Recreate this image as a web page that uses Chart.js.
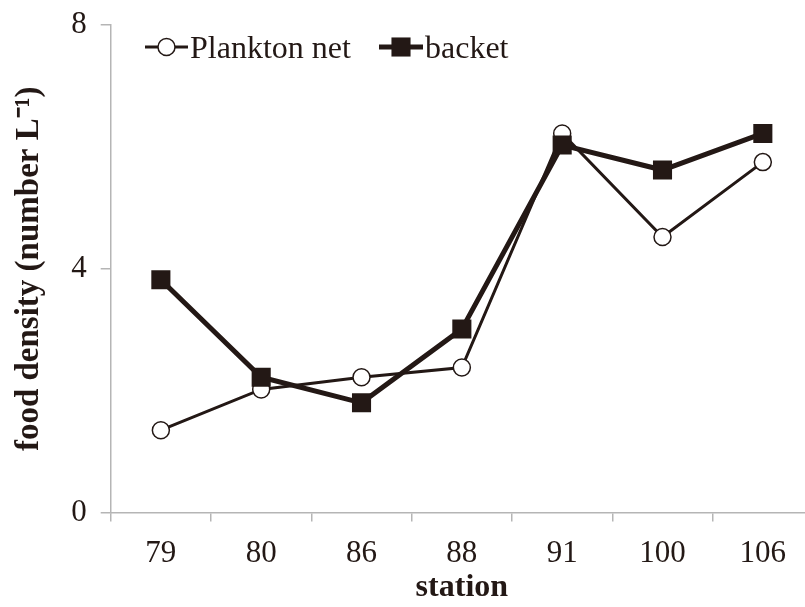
<!DOCTYPE html>
<html>
<head>
<meta charset="utf-8">
<script src="https://cdn.jsdelivr.net/npm/chart.js@4.4.1/dist/chart.umd.min.js"></script>
<style>
  html, body { margin: 0; padding: 0; background: #ffffff; overflow: hidden; }
  #wrap { width: 813px; height: 607px; }
</style>
</head>
<body>
<div id="wrap"><canvas id="c" width="813" height="607"></canvas></div>
<script>
// Stations sampled along the transect
const stations = ['79', '80', '86', '88', '91', '100', '106'];
// Food density (number per litre) for each sampling method
const planktonNet = [1.35, 2.02, 2.22, 2.38, 6.22, 4.52, 5.75];
const backet = [3.82, 2.22, 1.80, 3.01, 6.03, 5.62, 6.22];
// Value axis ticks
const yTicks = [0, 4, 8];

const INK = '#231815';
const AXIS = '#b5b5b5';
const SERIF = 'Liberation Serif';

// Legend with a short line segment through each marker, drawn on the canvas
const lineLegend = {
  id: 'lineLegend',
  afterDraw(chart) {
    const ctx = chart.ctx;
    const items = [
      { ds: chart.data.datasets[1], x0: 145, x1: 188, y: 47 },
      { ds: chart.data.datasets[0], x0: 379, x1: 423, y: 47 }
    ];
    ctx.save();
    items.forEach(it => {
      const ds = it.ds;
      const cx = (it.x0 + it.x1) / 2;
      ctx.strokeStyle = ds.borderColor;
      ctx.lineWidth = ds.borderWidth;
      ctx.beginPath();
      ctx.moveTo(it.x0, it.y);
      ctx.lineTo(it.x1, it.y);
      ctx.stroke();
      ctx.fillStyle = ds.pointBackgroundColor;
      ctx.strokeStyle = ds.pointBorderColor;
      ctx.lineWidth = ds.pointBorderWidth;
      ctx.beginPath();
      if (ds.pointStyle === 'circle') {
        ctx.arc(cx, it.y, ds.pointRadius, 0, Math.PI * 2);
        ctx.fill();
        ctx.stroke();
      } else {
        const s = ds.pointRadius * Math.SQRT1_2;
        ctx.rect(cx - s, it.y - s, 2 * s, 2 * s);
        ctx.fill();
      }
      ctx.fillStyle = INK;
      ctx.font = "32px '" + SERIF + "'";
      ctx.textBaseline = 'alphabetic';
      ctx.textAlign = 'left';
      ctx.fillText(ds.label, it.x1 + 2, it.y + 11);
    });
    ctx.restore();
  }
};

new Chart(document.getElementById('c'), {
  type: 'line',
  data: {
    labels: stations,
    datasets: [
      {
        label: 'backet',
        data: backet,
        borderColor: INK,
        borderWidth: 5,
        pointStyle: 'rect',
        pointRadius: 13.5,
        pointHoverRadius: 13.5,
        pointBackgroundColor: INK,
        pointBorderColor: INK,
        pointBorderWidth: 0,
        tension: 0,
        order: 0
      },
      {
        label: 'Plankton net',
        data: planktonNet,
        borderColor: INK,
        borderWidth: 3,
        pointStyle: 'circle',
        pointRadius: 8.5,
        pointHoverRadius: 8.5,
        pointBackgroundColor: '#ffffff',
        pointBorderColor: INK,
        pointBorderWidth: 1.5,
        tension: 0,
        order: 1
      }
    ]
  },
  options: {
    responsive: false,
    animation: false,
    events: [],
    layout: { autoPadding: false, padding: { top: 25, right: 0, left: 10, bottom: 0 } },
    plugins: {
      legend: { display: false },
      tooltip: { enabled: false }
    },
    scales: {
      x: {
        type: 'category',
        offset: true,
        grid: {
          display: true,
          offset: true,
          drawOnChartArea: false,
          tickLength: 9,
          tickColor: AXIS,
          lineWidth: 1.5
        },
        border: { display: true, color: AXIS, width: 1.5 },
        ticks: {
          color: INK,
          font: { family: SERIF, size: 31 },
          padding: 14,
          maxRotation: 0
        },
        title: {
          display: true,
          text: 'station',
          color: INK,
          font: { family: SERIF, size: 32, weight: 'bold' },
          padding: { top: 0, bottom: 0 }
        },
        afterFit(scale) {
          scale.height = 607 - 512.5;
          scale.paddingLeft = 0;
          scale.paddingRight = 0;
        }
      },
      y: {
        min: 0,
        max: 8,
        afterBuildTicks(scale) { scale.ticks = yTicks.map(v => ({ value: v })); },
        grid: {
          display: true,
          drawOnChartArea: false,
          tickLength: 10,
          tickColor: AXIS,
          lineWidth: 1.5
        },
        border: { display: true, color: AXIS, width: 1.5 },
        ticks: {
          color: INK,
          font: { family: SERIF, size: 31 },
          padding: 14
        },
        title: {
          display: true,
          text: 'food density (number L⁻¹)',
          color: INK,
          font: { family: SERIF, size: 33, weight: 'bold' },
          padding: { top: 0, bottom: 0 }
        },
        afterFit(scale) {
          scale.width = 100.7;
          scale.paddingTop = 0;
          scale.paddingBottom = 0;
        }
      }
    }
  },
  plugins: [lineLegend]
});
</script>
</body>
</html>
